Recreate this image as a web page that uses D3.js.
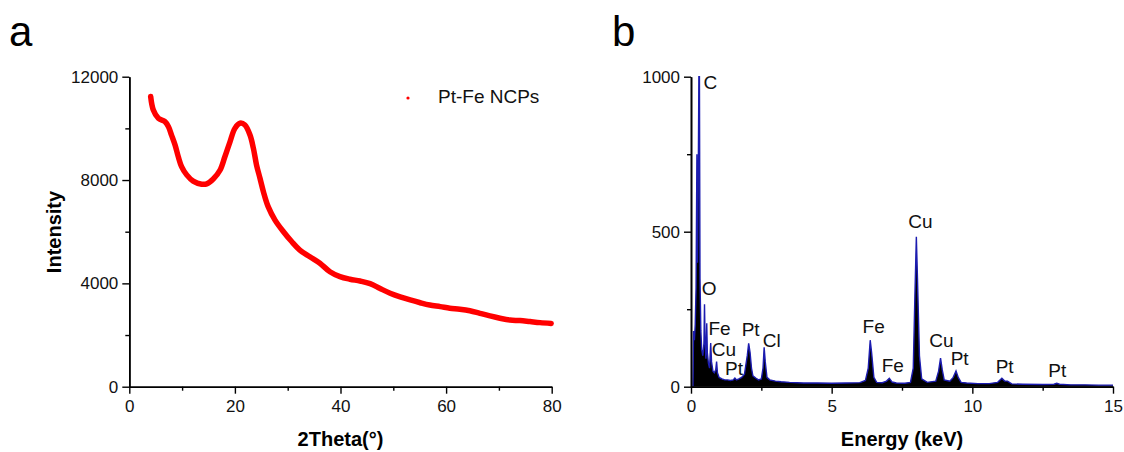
<!DOCTYPE html>
<html>
<head>
<meta charset="utf-8">
<script src="https://cdn.jsdelivr.net/npm/d3@7"></script>
<style>
  body { margin: 0; background: #fff; }
  svg text { font-family: "Liberation Sans", Arial, sans-serif; }
</style>
</head>
<body>
<div id="grafica"></div>
<script>
// panel a: XRD
thetaA = [4.05, 4.55, 5.5, 6.76, 7.4, 8.0, 8.66, 9.28, 9.9, 10.87, 12.1, 13.7, 14.66, 15.9, 17.2, 18.1,
          19.07, 20.0, 20.97, 21.9, 22.86, 23.5, 24.1, 24.75, 25.4, 26.3, 27.6, 29.2, 30.75, 32.3, 34.2,
          36.1, 38.0, 39.9, 41.8, 43.7, 45.6, 47.5, 49.4, 51.3, 53.2, 55.1, 56.9, 58.9, 60.7, 62.6, 64.5,
          66.4, 68.3, 70.2, 72.1, 74.0, 75.9, 77.8, 79.9]
intensityA = [11230, 10710, 10390, 10260, 10070, 9740, 9360, 8900, 8520, 8200, 7960, 7840, 7850, 8040, 8390, 8900,
              9480, 10000, 10200, 10130, 9740, 9230, 8580, 8070, 7550, 6970, 6450, 6000, 5620, 5290, 5030,
              4780, 4450, 4260, 4160, 4090, 3990, 3800, 3620, 3480, 3360, 3250, 3160, 3100, 3040, 3000, 2940,
              2840, 2740, 2650, 2580, 2560, 2520, 2480, 2450]
ticksAx = [0, 20, 40, 60, 80]
minorAx = [10, 30, 50, 70]
ticksAy = [0, 4000, 8000, 12000]
minorAy = [2000, 6000, 10000]
legendA = 'Pt-Fe NCPs'

// panel b: EDS
energyB = [0.07, 0.09, 0.12, 0.15, 0.18, 0.21, 0.23, 0.26, 0.28, 0.30, 0.32, 0.35, 0.38, 0.42, 0.46, 0.48,
           0.50, 0.53, 0.56, 0.58, 0.62, 0.66, 0.70, 0.73, 0.78, 0.83, 0.88, 0.91, 0.94, 1.0, 1.1, 1.2, 1.3,
           1.4, 1.5, 1.56, 1.62, 1.7, 1.8, 1.9, 2.0, 2.05, 2.1, 2.15, 2.2, 2.3, 2.4, 2.5, 2.56, 2.6, 2.64,
           2.7, 2.8, 3.0, 3.2, 3.5, 4.0, 4.5, 5.0, 5.5, 6.0, 6.2, 6.3, 6.37, 6.42, 6.5, 6.6, 6.8, 6.95, 7.05,
           7.15, 7.3, 7.6, 7.8, 7.9, 7.96, 8.01, 8.05, 8.12, 8.2, 8.4, 8.7, 8.8, 8.87, 8.93, 9.0, 9.2, 9.32,
           9.42, 9.5, 9.6, 9.8, 10.2, 10.6, 10.9, 11.05, 11.15, 11.25, 11.4, 11.8, 12.5, 12.9, 13.0, 13.1,
           13.5, 14.0, 14.5, 15.0]
countsB = [0, 180, 150, 200, 320, 750, 400, 700, 1000, 1000, 350, 180, 120, 100, 140, 266,
           150, 90, 205, 110, 75, 60, 141, 80, 50, 45, 55, 81, 45, 30, 25, 22, 22,
           20, 22, 28, 22, 25, 30, 40, 100, 140, 110, 60, 35, 28, 22, 25, 60, 127, 80,
           30, 22, 18, 16, 14, 12, 12, 11, 12, 13, 20, 60, 150, 110, 30, 14, 13, 18, 27,
           15, 12, 11, 14, 60, 300, 484, 350, 100, 25, 14, 18, 50, 92, 55, 22, 18, 30,
           51, 30, 14, 12, 10, 10, 14, 27, 18, 18, 9, 8, 7, 8, 11, 8,
           6, 6, 5, 5]
ticksBx = [0, 5, 10, 15]
minorBx = [2.5, 7.5, 12.5]
ticksBy = [0, 500, 1000]
minorBy = [250, 750]
// element labels: name, energy (keV), counts where the text sits
peakNames  = ['C', 'O', 'Fe', 'Cu', 'Pt', 'Pt', 'Cl', 'Fe', 'Fe', 'Cu', 'Cu', 'Pt', 'Pt', 'Pt']
peakEnergy = [0.44, 0.38, 0.62, 0.74, 1.21, 1.80, 2.55, 6.10, 6.78, 7.72, 8.47, 9.23, 10.83, 12.70]
peakCounts = [960, 296, 167, 99, 38, 164, 129, 172, 48, 511, 129, 70, 43, 32]

svg = d3.select('#grafica')
        .append('svg')
        .attr('width', 1124)
        .attr('height', 452)

svg.append('rect').attr('width', 1124).attr('height', 452).attr('fill', '#fff')

function ejes(g, x, y, tx, mx, ty, my) {
  x0 = y.range()[0]
  y0 = x.range()[0]
  g.append('g')
    .attr('transform', `translate(0, ${x0})`)
    .call(d3.axisBottom(x).tickValues(mx).tickSize(4).tickSizeOuter(0).tickFormat(''))
  g.append('g')
    .attr('transform', `translate(${y0}, 0)`)
    .call(d3.axisLeft(y).tickValues(my).tickSize(4).tickSizeOuter(0).tickFormat(''))
  g.append('g')
    .attr('transform', `translate(0, ${x0})`)
    .call(d3.axisBottom(x).tickValues(tx).tickSize(7).tickSizeOuter(0).tickPadding(6).tickFormat(d3.format('d')))
  g.append('g')
    .attr('transform', `translate(${y0}, 0)`)
    .call(d3.axisLeft(y).tickValues(ty).tickSize(7).tickSizeOuter(0).tickPadding(4).tickFormat(d3.format('d')))
  g.selectAll('.domain').attr('stroke-width', 1.6)
  g.selectAll('.tick line').attr('stroke-width', 1.4)
  g.selectAll('.tick text')
    .attr('font-size', '17px')
    .attr('font-family', '"Liberation Sans", Arial, sans-serif')
    .attr('fill', '#111')
}

// ---------- panel a ----------
xA = d3.scaleLinear().domain([0, 80]).range([129.3, 551.7])
yA = d3.scaleLinear().domain([0, 12000]).range([386.7, 76.7])

gA = svg.append('g')

lineA = d3.line()
          .x((d, i) => xA(thetaA[i]))
          .y((d, i) => yA(intensityA[i]))
          .curve(d3.curveCatmullRom)

gA.append('path')
  .datum(thetaA)
  .attr('d', lineA)
  .attr('fill', 'none')
  .attr('stroke', '#ff0000')
  .attr('stroke-width', 5.5)
  .attr('stroke-linecap', 'round')
  .attr('stroke-linejoin', 'round')

ejes(gA, xA, yA, ticksAx, minorAx, ticksAy, minorAy)

gA.append('circle').attr('cx', 408).attr('cy', 98).attr('r', 1.6).attr('fill', '#ff0000')
gA.append('text')
  .attr('x', 438).attr('y', 103)
  .attr('font-size', '19px')
  .attr('fill', '#111')
  .text(legendA)

gA.append('text')
  .attr('x', xA(40)).attr('y', 446)
  .attr('text-anchor', 'middle')
  .attr('font-size', '20px')
  .attr('font-weight', 'bold')
  .text('2Theta(°)')

gA.append('text')
  .attr('transform', 'translate(61, 232) rotate(-90)')
  .attr('text-anchor', 'middle')
  .attr('font-size', '20px')
  .attr('font-weight', 'bold')
  .text('Intensity')

gA.append('text')
  .attr('x', 9).attr('y', 46)
  .attr('font-size', '42px')
  .text('a')

// ---------- panel b ----------
xB = d3.scaleLinear().domain([0, 15]).range([691, 1113])
yB = d3.scaleLinear().domain([0, 1000]).range([386.7, 76.7])

gB = svg.append('g')

areaB = d3.area()
          .x((d, i) => xB(energyB[i]))
          .y0(yB(0))
          .y1((d, i) => yB(countsB[i]))

lineB = d3.line()
          .x((d, i) => xB(energyB[i]))
          .y((d, i) => yB(countsB[i]))

gB.append('path')
  .datum(energyB)
  .attr('d', areaB)
  .attr('fill', '#000')

gB.append('path')
  .datum(energyB)
  .attr('d', lineB)
  .attr('fill', 'none')
  .attr('stroke', '#1c1cb0')
  .attr('stroke-width', 1.4)

ejes(gB, xB, yB, ticksBx, minorBx, ticksBy, minorBy)

gB.selectAll('.peak')
  .data(peakNames)
  .enter()
  .append('text')
    .attr('class', 'peak')
    .attr('x', (d, i) => xB(peakEnergy[i]))
    .attr('y', (d, i) => yB(peakCounts[i]))
    .attr('font-size', '19px')
    .attr('fill', '#111')
    .text((d) => d)

gB.append('text')
  .attr('x', xB(7.5)).attr('y', 446)
  .attr('text-anchor', 'middle')
  .attr('font-size', '20px')
  .attr('font-weight', 'bold')
  .text('Energy (keV)')

gB.append('text')
  .attr('x', 612).attr('y', 46)
  .attr('font-size', '42px')
  .text('b')
</script>
</body>
</html>
